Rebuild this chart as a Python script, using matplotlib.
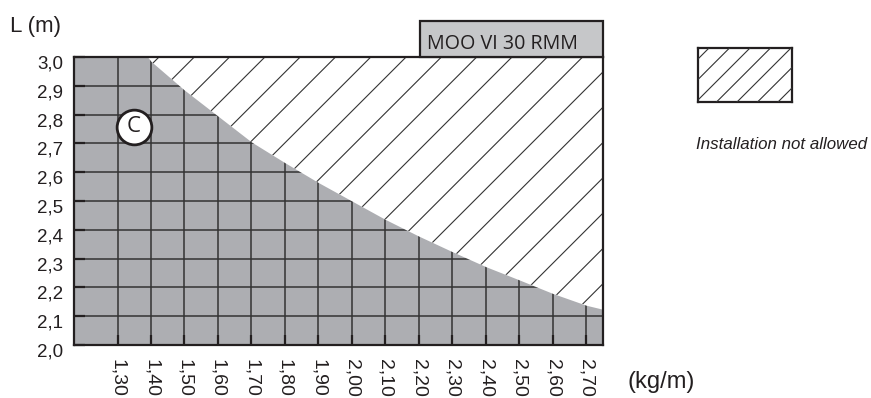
import numpy as np
import matplotlib.pyplot as plt
import matplotlib.transforms as mtransforms
from matplotlib.patches import Rectangle

# limit curve: weight per metre (kg/m) -> max length L (m)
weight = [1.39, 1.40, 1.50, 1.60, 1.70, 1.80, 1.90, 2.00, 2.10, 2.20,
          2.30, 2.40, 2.50, 2.60, 2.70, 2.75]
length_max = [3.00, 2.985, 2.885, 2.795, 2.705, 2.633, 2.564, 2.50, 2.436,
              2.378, 2.324, 2.272, 2.226, 2.179, 2.138, 2.124]

x_ticks = [1.30, 1.40, 1.50, 1.60, 1.70, 1.80, 1.90, 2.00, 2.10, 2.20,
           2.30, 2.40, 2.50, 2.60, 2.70]
x_labels = ['1,30', '1,40', '1,50', '1,60', '1,70', '1,80', '1,90', '2,00',
            '2,10', '2,20', '2,30', '2,40', '2,50', '2,60', '2,70']
y_ticks = [2.0, 2.1, 2.2, 2.3, 2.4, 2.5, 2.6, 2.7, 2.8, 2.9, 3.0]
y_labels = ['2,0', '2,1', '2,2', '2,3', '2,4', '2,5', '2,6', '2,7', '2,8',
            '2,9', '3,0']

model_name = "MOO VI 30 RMM"
zone_label = "C"
zone_pos = (1.349, 2.757)
legend_text = "Installation not allowed"

plt.rcParams['font.family'] = ['Liberation Sans', 'DejaVu Sans']
INK = '#231f20'
W, H = 871, 398

fig = plt.figure(figsize=(W / 100, H / 100), dpi=100)


def px_axes(l, t, r, b):
    return fig.add_axes([l / W, 1 - b / H, (r - l) / W, (b - t) / H])


def hatch(a, step, first, clip=None):
    # 45 degree lines, step/first in pixels along the top edge
    bb = a.get_position()
    w, h = bb.width * W, bb.height * H
    for c in np.arange(first % step - h, w + h, step):
        ln, = a.plot([c / w, (c - h) / w], [1, 0], transform=a.transAxes,
                     color='#333333', lw=0.8, zorder=3)
        if clip is not None:
            ln.set_clip_path(clip, a.transData)


ax = px_axes(74, 57, 603, 345)
ax.set_xlim(1.17, 2.75)
ax.set_ylim(2.0, 3.0)
ax.set_facecolor('#adaeb2')

for x in x_ticks:
    ax.axvline(x, color='#333333', lw=1.1, zorder=1)
for y in y_ticks[1:-1]:
    ax.axhline(y, color='#333333', lw=1.1, zorder=1)

poly = ax.fill_between(weight, length_max, 3.0, color='white', lw=0, zorder=2)
hatch(ax, 35.3, 408.3, poly.get_paths()[0])

ax.plot(*zone_pos, 'o', ms=25, mfc='white', mec=INK, mew=2, zorder=5)
ax.text(*zone_pos, zone_label, ha='center', va='center', fontsize=16,
        family='Open Sans', color=INK, zorder=6)

for s in ax.spines.values():
    s.set_linewidth(1.6)
    s.set_color(INK)
    s.set_zorder(7)

ax.set_xticks(x_ticks, x_labels, rotation=270, fontsize=14, color=INK)
ax.set_yticks(y_ticks, y_labels, fontsize=13.5, color=INK)
ax.tick_params(axis='x', direction='in', length=7, width=1.6, pad=10, color=INK)
ax.tick_params(axis='y', direction='in', length=8, width=1.6, pad=8, color=INK)
shift = mtransforms.ScaledTranslation(0, -0.05, fig.dpi_scale_trans)
for lab in ax.get_yticklabels():
    lab.set_transform(lab.get_transform() + shift)

# model title box
fig.add_artist(Rectangle((420 / W, 1 - 57 / H), 183 / W, 36 / H,
                         transform=fig.transFigure, fc='#c6c7c9', ec=INK, lw=1.6))
fig.text(427 / W, 1 - 49.3 / H, model_name, fontsize=14.2, family='Open Sans',
         va='baseline', color=INK)

fig.text(10 / W, 1 - 31.7 / H, 'L (m)', fontsize=16, va='baseline', color=INK)
fig.text(627 / W, 1 - 388.3 / H, '(kg/m)', fontsize=17, va='baseline', color=INK)

# legend
lg = px_axes(698, 48, 792, 102)
lg.set_xlim(0, 1)
lg.set_ylim(0, 1)
lg.set_xticks([])
lg.set_yticks([])
for s in lg.spines.values():
    s.set_linewidth(1.6)
    s.set_color(INK)
hatch(lg, 20.5, 24)
fig.text(696 / W, 1 - 149 / H, legend_text, fontsize=12.2, style='italic',
         va='baseline', color=INK)

fig.savefig('out.png', dpi=100)
